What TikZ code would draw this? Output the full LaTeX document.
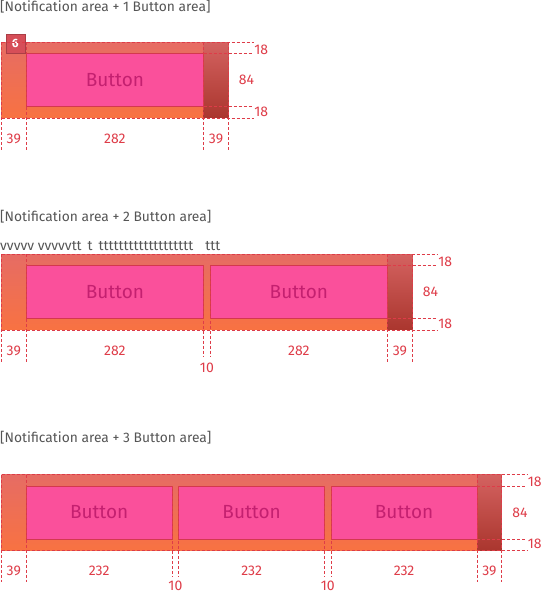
\documentclass[tikz,border=0pt]{standalone}
\usepackage{fontspec}
\setmainfont{Fira Sans}
\usetikzlibrary{positioning}

\definecolor{dimred}{RGB}{222,60,72}
\definecolor{titlegray}{RGB}{85,85,85}
\definecolor{btnpink}{RGB}{250,80,155}
\definecolor{btnline}{RGB}{212,56,78}
\definecolor{btntext}{RGB}{196,32,112}
\definecolor{bgsalmon}{RGB}{230,108,100}
\definecolor{bgorange}{RGB}{248,114,66}
\definecolor{margtop}{RGB}{212,98,96}
\definecolor{margbot}{RGB}{170,54,46}
\definecolor{badgered}{RGB}{214,78,88}

\tikzset{
  dimline/.style={dimred, dash pattern=on 3pt off 2pt, line width=0.75pt},
  dimlabel/.style={text=dimred, font=\fontsize{14}{16}\selectfont, inner sep=0pt},
  btnbox/.style={draw=btnline, fill=btnpink, line width=0.8pt},
  btnlabel/.style={text=btntext, font=\fontsize{19}{21}\selectfont, inner sep=0pt},
  paneltitle/.style={text=titlegray, font=\fontsize{13.8}{16}\selectfont, anchor=west, inner sep=0pt},
}

\begin{document}
\begin{tikzpicture}[x=1pt,y=-1pt]
  \useasboundingbox (0,0) rectangle (544,594);

  % titles
  \node[paneltitle] (title1) at (0,7) {[Notification area + 1 Button area]};
  \node[paneltitle] (title2) at (0,217) {[Notification area + 2 Button area]};
  \node[paneltitle] (title3) at (0,438) {[Notification area + 3 Button area]};
  \node[paneltitle] (filler) at (0,246) {vvvvv vvvvvtt\hspace{6pt}t\hspace{6pt}ttttttttttttttttttt\hspace{12pt}ttt};

  % 1 button
  \begin{scope}[shift={(1.5,42.3)},scale=0.63]
    \shade[top color=bgsalmon, bottom color=bgorange] (0,0) rectangle (360,120);
    \shade[top color=margtop, bottom color=margbot] (321,0) rectangle (360,120);
    \foreach \a/\b [count=\i] in {39/321}
    {
      \draw[btnbox] (\a,18) rectangle (\b,102);
      \node[btnlabel] (btnA\i) at ({(\a+\b)/2},60) {Button};
    }
    \draw[draw=badgered!80!black, fill=badgered, line width=0.6pt] (7,-12) rectangle (37,17);
    \node[text=white, font=\bfseries\fontsize{12}{14}\selectfont, inner sep=0pt] (badge) at (22,2.5) {6};
    \draw[dimline] (0,0) -- (400,0) (0,120) -- (400,120)
      (321,18) -- (400,18) (321,102) -- (400,102);
    \foreach \x in {0,39,321,360}
      \draw[dimline] (\x,0) -- (\x,171);
    \foreach \x/\t [count=\i] in {19.5/39, 180/282, 340.5/39}
      \node[dimlabel] (dimA\i) at (\x,153) {\t};
    \node[dimlabel, anchor=west] (topA) at (401,12) {18};
    \node[dimlabel, anchor=west] (botA) at (401,110) {18};
    \node[dimlabel] (hgtA) at (389,60) {84};
  \end{scope}

  % 2 buttons
  \begin{scope}[shift={(1.5,254.3)},scale=0.63]
    \shade[top color=bgsalmon, bottom color=bgorange] (0,0) rectangle (652,120);
    \shade[top color=margtop, bottom color=margbot] (613,0) rectangle (652,120);
    \foreach \a/\b [count=\i] in {39/321, 331/613}
    {
      \draw[btnbox] (\a,18) rectangle (\b,102);
      \node[btnlabel] (btnB\i) at ({(\a+\b)/2},60) {Button};
    }
    \draw[dimline] (0,0) -- (692,0) (0,120) -- (692,120)
      (613,18) -- (692,18) (613,102) -- (692,102);
    \foreach \x in {0,39,613,652}
      \draw[dimline] (\x,0) -- (\x,171);
    \foreach \x in {321,331}
      \draw[dimline] (\x,18) -- (\x,163);
    \foreach \x/\t [count=\i] in {19.5/39, 180/282, 472/282, 632.5/39}
      \node[dimlabel] (dimB\i) at (\x,153) {\t};
    \node[dimlabel] (gapB1) at (326,180) {10};
    \node[dimlabel, anchor=west] (topB) at (693,12) {18};
    \node[dimlabel, anchor=west] (botB) at (693,110) {18};
    \node[dimlabel] (hgtB) at (681,60) {84};
  \end{scope}

  % 3 buttons
  \begin{scope}[shift={(1.5,474.7)},scale=0.63]
    \shade[top color=bgsalmon, bottom color=bgorange] (0,0) rectangle (794,120);
    \shade[top color=margtop, bottom color=margbot] (755,0) rectangle (794,120);
    \foreach \a/\b [count=\i] in {39/271, 281/513, 523/755}
    {
      \draw[btnbox] (\a,18) rectangle (\b,102);
      \node[btnlabel] (btnC\i) at ({(\a+\b)/2},60) {Button};
    }
    \draw[dimline] (0,0) -- (834,0) (0,120) -- (834,120)
      (755,18) -- (834,18) (755,102) -- (834,102);
    \foreach \x in {0,39,755,794}
      \draw[dimline] (\x,0) -- (\x,171);
    \foreach \x in {271,281,513,523}
      \draw[dimline] (\x,18) -- (\x,163);
    \foreach \x/\t [count=\i] in {19.5/39, 155/232, 397/232, 639/232, 774.5/39}
      \node[dimlabel] (dimC\i) at (\x,153) {\t};
    \foreach \x [count=\i] in {276,518}
      \node[dimlabel] (gapC\i) at (\x,177) {10};
    \node[dimlabel, anchor=west] (topC) at (835,12) {18};
    \node[dimlabel, anchor=west] (botC) at (835,110) {18};
    \node[dimlabel] (hgtC) at (823,60) {84};
  \end{scope}
\end{tikzpicture}
\end{document}
